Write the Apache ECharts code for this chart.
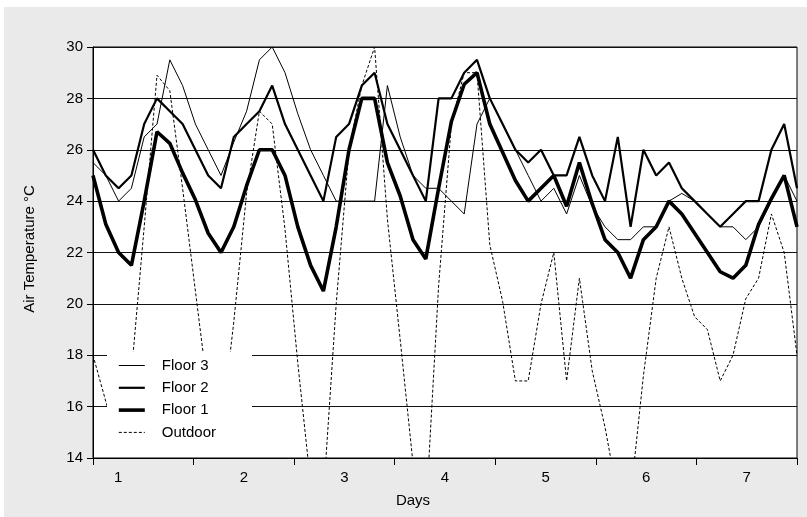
<!DOCTYPE html>
<html>
<head>
<meta charset="utf-8">
<script src="https://cdn.jsdelivr.net/npm/echarts@6/dist/echarts.min.js"></script>
<style>
html,body{margin:0;padding:0;background:#ffffff;}
#chart{position:absolute;left:4px;top:7px;width:803px;height:510px;}
</style>
</head>
<body>
<div id="chart"></div>
<script>
// 3-hourly readings over 7 days (56 points)
var hours = [0,3,6,9,12,15,18,21,24,27,30,33,36,39,42,45,48,51,54,57,60,63,66,69,72,75,78,81,84,87,90,93,96,99,102,105,108,111,114,117,120,123,126,129,132,135,138,141,144,147,150,153,156,159,162,165];

var floor3 = [25.5,25.0,24.0,24.5,26.5,27.0,29.5,28.5,27.0,26.0,25.0,26.3,27.5,29.5,30.0,29.0,27.4,26.0,25.0,24.0,24.0,24.0,24.0,28.5,26.5,25.0,24.5,24.5,24.0,23.5,27.0,28.0,27.0,26.0,25.0,24.0,24.5,23.5,25.0,23.8,23.0,22.5,22.5,23.0,23.0,24.0,24.3,24.0,23.5,23.0,23.0,22.5,23.0,24.0,25.0,24.0];

var floor2 = [26.0,25.0,24.5,25.0,27.0,28.0,27.5,27.0,26.0,25.0,24.5,26.5,27.0,27.5,28.5,27.0,26.0,25.0,24.0,26.5,27.0,28.5,29.0,27.0,26.0,25.0,24.0,28.0,28.0,29.0,29.5,28.0,27.0,26.0,25.5,26.0,25.0,25.0,26.5,25.0,24.0,26.5,23.0,26.0,25.0,25.5,24.5,24.0,23.5,23.0,23.5,24.0,24.0,26.0,27.0,24.5];

var floor1 = [25.0,23.1,22.0,21.5,24.0,26.7,26.25,25.1,24.05,22.75,22.0,23.0,24.6,26.0,26.0,25.0,23.0,21.5,20.5,23.0,26.0,28.0,28.0,25.5,24.2,22.5,21.75,24.5,27.1,28.55,29.0,27.0,25.9,24.8,24.0,24.5,25.0,23.8,25.5,23.9,22.5,22.0,21.0,22.5,23.0,24.0,23.5,22.75,22.0,21.25,21.0,21.5,23.1,24.1,25.0,23.0];

var outdoor = [18.0,16.2,14.5,17.3,23.0,28.9,28.3,24.5,20.5,16.5,15.0,19.3,24.3,27.5,27.0,22.9,17.7,13.0,12.5,20.0,26.0,28.5,30.0,23.3,18.6,13.8,11.8,20.7,27.0,29.0,29.0,22.3,20.1,17.0,17.0,20.0,22.0,17.0,21.0,17.4,15.2,12.5,12.5,17.2,21.0,23.0,21.0,19.5,19.0,17.0,18.0,20.2,21.0,23.5,22.0,18.0];

var dayLabels = ['1','2','3','4','5','6','7'];
var dayLabelPos = [0.25,1.5,2.5,3.5,4.5,5.5,6.5];
var yTicks = [14,16,18,20,22,24,26,28,30];

var FONT = 'Liberation Sans, Arial, sans-serif';
var chart = echarts.init(document.getElementById('chart'), null, {renderer:'canvas'});

var option = {
  backgroundColor: '#eaeaea',
  animation: false,
  textStyle: {fontFamily: FONT, color:'#000'},
  grid: {left: 89, right: 10, top: 40, bottom: 59, show: true, backgroundColor: '#ffffff', borderColor: '#000', borderWidth: 1},
  legend: {
    orient: 'vertical', left: 103, top: 345,
    padding: [6, 36, 9, 10],
    backgroundColor: '#ffffff',
    itemWidth: 26, itemHeight: 14, itemGap: 7.3,
    textStyle: {fontFamily: FONT, fontSize: 15, color: '#000', padding: [0,0,0,12]},
    itemStyle: {color: 'rgba(0,0,0,0)', borderColor: 'rgba(0,0,0,0)', borderWidth: 0, opacity: 0},
    lineStyle: {width: 'inherit', color: '#000'},
    data: ['Floor 3','Floor 2','Floor 1','Outdoor']
  },
  xAxis: [
    {type: 'category', data: hours, boundaryGap: false, show: false},
    {type: 'value', min: 0, max: 7, interval: 1, position: 'bottom',
     axisLine: {show: true, lineStyle: {color: '#000', width: 1}},
     axisTick: {show: true, length: 7, lineStyle: {color: '#000'}},
     axisLabel: {show: false}, splitLine: {show: false}},
    {type: 'value', min: 0, max: 7, interval: 0.25, position: 'bottom',
     axisLine: {show: false}, axisTick: {show: false}, splitLine: {show: false},
     axisLabel: {show: true, margin: 12, fontFamily: FONT, fontSize: 15, color: '#000',
       formatter: function (v) {
         for (var k = 0; k < dayLabelPos.length; k++) {
           if (Math.abs(v - dayLabelPos[k]) < 1e-6) return dayLabels[k];
         }
         return '';
       }}}
  ],
  yAxis: {
    type: 'value', min: yTicks[0], max: yTicks[yTicks.length-1], interval: 2,
    axisLine: {show: true, lineStyle: {color: '#000'}},
    axisTick: {show: true, length: 6, lineStyle: {color: '#000'}},
    axisLabel: {margin: 10, fontFamily: FONT, fontSize: 15, color: '#000'},
    splitLine: {show: true, lineStyle: {color: '#111', width: 1}}
  },
  graphic: [
    {type: 'text', x: 409, y: 494, style: {text: 'Days', font: '15px ' + FONT, fill: '#000', textAlign: 'center', textVerticalAlign: 'middle'}},
    {type: 'text', x: 26, y: 242, rotation: Math.PI/2, style: {text: 'Air Temperature °C', font: '15px ' + FONT, fill: '#000', textAlign: 'center', textVerticalAlign: 'middle'}}
  ],
  series: [
    {name: 'Floor 3', type: 'line', xAxisIndex: 0, data: floor3, symbol: 'none', lineStyle: {color: '#000', width: 1}, itemStyle: {color: '#000'}},
    {name: 'Floor 2', type: 'line', xAxisIndex: 0, data: floor2, symbol: 'none', lineStyle: {color: '#000', width: 2.2}, itemStyle: {color: '#000'}},
    {name: 'Floor 1', type: 'line', xAxisIndex: 0, data: floor1, symbol: 'none', lineStyle: {color: '#000', width: 3.6}, itemStyle: {color: '#000'}},
    {name: 'Outdoor', type: 'line', xAxisIndex: 0, data: outdoor, symbol: 'none', lineStyle: {color: '#000', width: 1, type: [3, 2]}, itemStyle: {color: '#000'}}
  ]
};
chart.setOption(option);
</script>
</body>
</html>
